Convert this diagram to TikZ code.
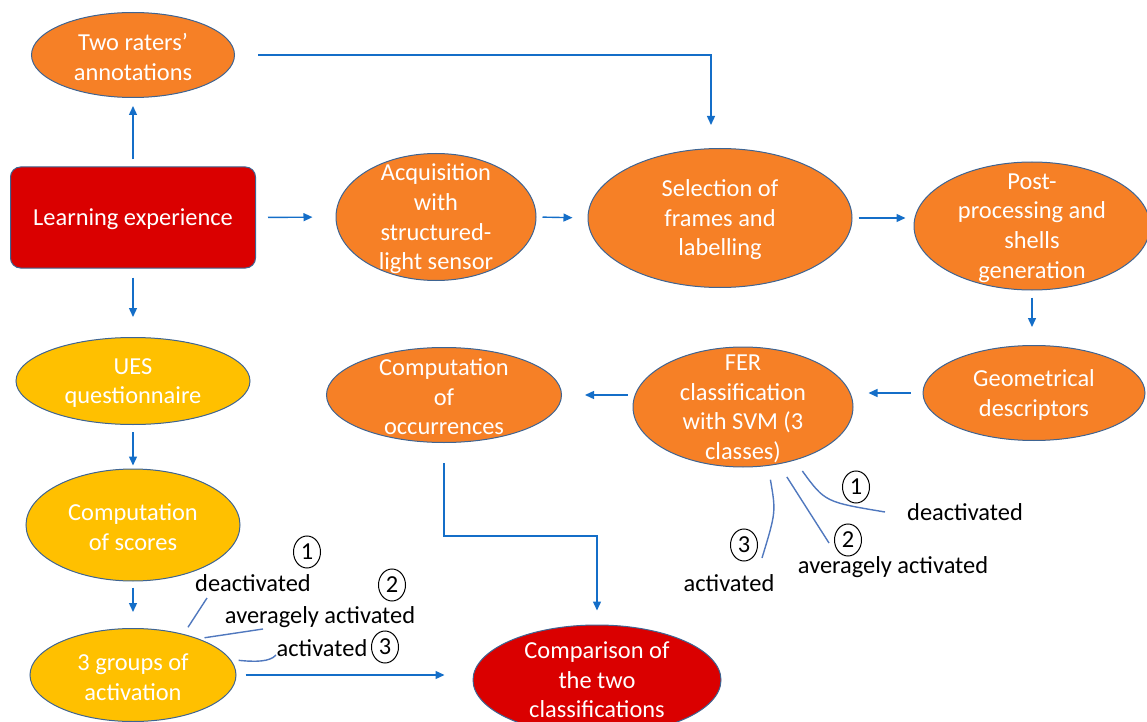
\documentclass[tikz,border=0pt]{standalone}
\usepackage{fontspec}
\setmainfont{Carlito}
\usetikzlibrary{shapes.geometric}
\usepgflibrary{arrows.meta}
\definecolor{ofOrange}{RGB}{246,128,38}
\definecolor{ofYellow}{RGB}{255,192,0}
\definecolor{ofRed}{RGB}{218,0,0}
\definecolor{ofEdge}{RGB}{62,100,146}
\definecolor{ofArrow}{RGB}{20,110,200}
\definecolor{ofTag}{RGB}{80,120,190}
\tikzset{
  oval/.style={ellipse,draw=ofEdge,line width=0.5pt,inner sep=0pt},
  caption/.style={text=white,align=center,inner sep=0pt,yshift=-1pt,font=\fontsize{12.2}{14.8}\selectfont},
  note/.style={inner sep=0pt,font=\fontsize{12.2}{14.8}\selectfont},
  num/.style={ellipse,draw=black,line width=0.5pt,inner sep=0pt,minimum width=13.5pt,minimum height=16pt,font=\fontsize{12.2}{14.8}\selectfont},
  link/.style={ofArrow,line width=0.7pt,-{Triangle[length=4.5pt,width=4pt]}},
  tag/.style={ofTag,line width=0.7pt}
}
\begin{document}
\begin{tikzpicture}[x=0.5pt,y=-0.5pt]
            \useasboundingbox (0,0) rectangle (1147,722);
            %节点
            \node [oval,fill=ofOrange,minimum width=101.5pt,minimum height=42.5pt] (raters) at (133,55) {};
            \node [draw=ofEdge,line width=0.5pt,fill=ofRed,rounded corners=5pt,minimum width=122.5pt,minimum height=50.5pt] (learn) at (133,217.5) {};
            \node [oval,fill=ofOrange,minimum width=100pt,minimum height=63.5pt] (acq) at (436,217) {};
            \node [oval,fill=ofOrange,minimum width=132pt,minimum height=69.5pt] (sel) at (720,218) {};
            \node [oval,fill=ofOrange,minimum width=118pt,minimum height=64pt] (post) at (1032,226) {};
            \node [oval,fill=ofOrange,minimum width=111pt,minimum height=47.5pt] (geo) at (1034,393) {};
            \node [oval,fill=ofOrange,minimum width=110pt,minimum height=60pt] (fer) at (743,407) {};
            \node [oval,fill=ofOrange,minimum width=117.5pt,minimum height=47.5pt] (occ) at (444,395) {};
            \node [oval,fill=ofYellow,minimum width=117pt,minimum height=43.5pt] (ues) at (133,381) {};
            \node [oval,fill=ofYellow,minimum width=107pt,minimum height=56pt] (scores) at (133,525) {};
            \node [oval,fill=ofYellow,minimum width=103pt,minimum height=46.5pt] (groups) at (133,675) {};
            \node [oval,fill=ofRed,minimum width=124pt,minimum height=55pt] (comp) at (597,680) {};
            %文字
            \node [caption] at (raters) {Two raters’\\annotations};
            \node [caption] at (learn) {Learning experience};
            \node [caption] at (acq) {Acquisition\\with\\structured-\\light sensor};
            \node [caption] at (sel) {Selection of\\frames and\\labelling};
            \node [caption] at (post) {Post-\\processing and\\shells\\generation};
            \node [caption] at (geo) {Geometrical\\descriptors};
            \node [caption] at (fer) {FER\\classification\\with SVM (3\\classes)};
            \node [caption] at (occ) {Computation\\of\\occurrences};
            \node [caption] at (ues) {UES\\questionnaire};
            \node [caption] at (scores) {Computation\\of scores};
            \node [caption] at (groups) {3 groups of\\activation};
            \node [caption] at ([yshift=1pt]comp) {Comparison of\\the two\\classifications};
            %箭头
            \draw [link,shorten <=3.5pt,shorten >=4pt] (learn.north) -- (raters.south);
            \draw [link,shorten <=11.5pt,shorten >=11.5pt] (raters.east) -| ([xshift=-4.5pt]sel.north);
            \draw [link,shorten <=6pt,shorten >=11.5pt] (learn.east) -- (acq.west);
            \draw [link,shorten <=3pt,shorten >=7.5pt] (acq.east) -- (sel.west);
            \draw [link,shorten <=3pt,shorten >=4pt] (sel.east) -- (post.west |- sel.east);
            \draw [link,shorten <=3.5pt,shorten >=9pt] (post.south) -- (post.south |- geo.north);
            \draw [link,shorten <=6pt,shorten >=7.5pt] (geo.west) -- (geo.west -| fer.east);
            \draw [link,shorten <=2.5pt,shorten >=11.5pt] (fer.west |- occ.east) -- (occ.east);
            \draw [link,shorten <=4.5pt,shorten >=10pt] (learn.south) -- (ues.north);
            \draw [link,shorten <=3.5pt,shorten >=1.5pt] (ues.south) -- (scores.north);
            \draw [link,shorten <=3pt,shorten >=8pt] (scores.south) -- (groups.north);
            \draw [link,shorten <=4.5pt,shorten >=14pt] (groups.east) -- (groups.east -| comp.west);
            \coordinate (occbend) at (444,536);
            \draw [link,shorten <=10pt,shorten >=7pt] (occ.south) -- (occbend) -| (comp.north);
            %标注: 3 groups
            \node [num] (ga) at (307,552) {1};
            \node [note] (gda) at (253,583) {deactivated};
            \node [num] (gb) at (392,585) {2};
            \node [note] (gav) at (320,617) {averagely activated};
            \node [note] (gac) at (322,648) {activated};
            \node [num] (gc) at (385,647) {3};
            \coordinate (gt1) at (207,598);
            \coordinate (gt2) at (263,629);
            \coordinate (gt3) at (276,655);
            \draw [tag,shorten <=4pt] (groups.39.5) -- (gt1);
            \draw [tag,shorten <=3pt] (groups.29) -- (gt2);
            \draw [tag,shorten <=4pt] (groups.9.8) .. controls (255,662) and (270,662) .. (gt3);
            %标注: FER
            \node [num] (fa) at (856,487) {1};
            \node [note] (fda) at (965,512) {deactivated};
            \node [num] (fb) at (848,540) {2};
            \node [note] (fav) at (893,567) {averagely activated};
            \node [num] (fc) at (744,545) {3};
            \node [note] (fac) at (729,583) {activated};
            \coordinate (ft1) at (885,512);
            \coordinate (ft2) at (829,543);
            \coordinate (ft3) at (762,558);
            \draw [tag,shorten <=6.5pt] (fer.-46) .. controls (825,502) .. (ft1);
            \draw [tag,shorten <=7.5pt] (fer.-58.4) -- (ft2);
            \draw [tag,shorten <=7pt] (fer.-67) .. controls (776,512) .. (ft3);
\end{tikzpicture}
\end{document}
